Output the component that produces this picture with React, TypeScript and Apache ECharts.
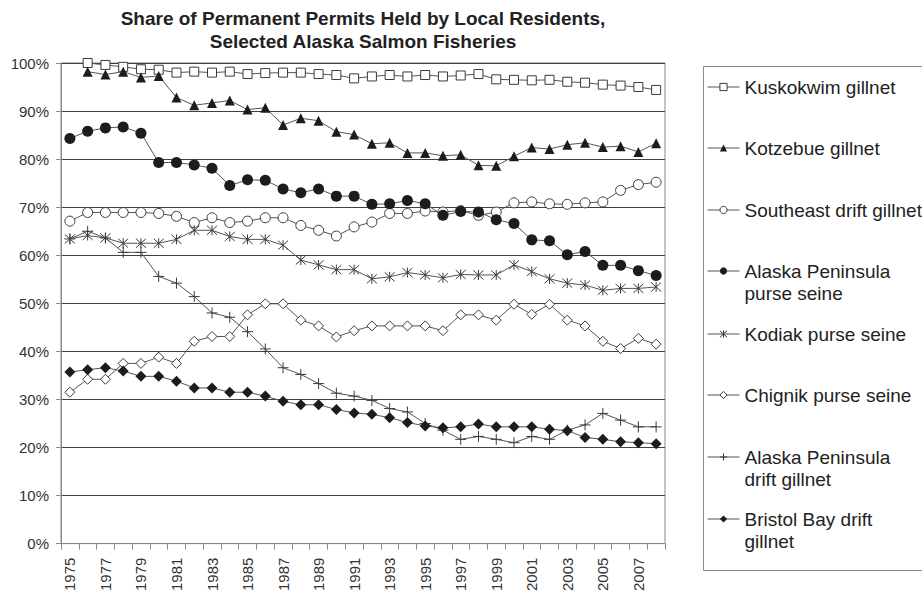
import React, { useEffect, useRef } from "react";
import * as echarts from "echarts";

const years = [
  "1975","1976","1977","1978","1979","1980","1981","1982","1983","1984",
  "1985","1986","1987","1988","1989","1990","1991","1992","1993","1994",
  "1995","1996","1997","1998","1999","2000","2001","2002","2003","2004",
  "2005","2006","2007","2008",
];

const kuskokwim = [null, 100, 99.6, 99.2, 98.7, 98.6, 98.0, 98.2, 98.0, 98.2, 97.7, 97.9, 98.0, 98.0, 97.7, 97.5, 96.8, 97.2, 97.5, 97.2, 97.5, 97.2, 97.4, 97.7, 96.6, 96.5, 96.4, 96.5, 96.1, 95.9, 95.5, 95.3, 95.0, 94.4];
const kotzebue = [null, 98.2, 97.6, 98.2, 97.0, 97.3, 92.8, 91.2, 91.7, 92.2, 90.3, 90.7, 87.1, 88.5, 88.0, 85.7, 85.1, 83.2, 83.4, 81.3, 81.3, 80.7, 80.9, 78.7, 78.6, 80.6, 82.4, 82.1, 83.0, 83.4, 82.5, 82.7, 81.5, 83.3];
const southeast = [67.1, 68.9, 68.9, 68.9, 68.9, 68.7, 68.1, 66.8, 67.8, 66.8, 67.1, 67.8, 67.8, 66.2, 65.2, 64.0, 65.9, 66.9, 68.7, 68.7, 69.2, 69.0, 69.3, 68.3, 69.0, 70.9, 71.1, 70.7, 70.6, 70.9, 71.1, 73.5, 74.7, 75.2];
const apPurse = [84.3, 85.8, 86.5, 86.7, 85.4, 79.3, 79.3, 78.8, 78.1, 74.5, 75.7, 75.6, 73.8, 73.0, 73.8, 72.3, 72.3, 70.6, 70.7, 71.4, 70.7, 68.3, 69.1, 69.0, 67.4, 66.6, 63.2, 63.0, 60.1, 60.8, 57.9, 57.9, 56.8, 55.8];
const kodiak = [63.4, 64.1, 63.6, 62.5, 62.5, 62.5, 63.3, 65.2, 65.2, 63.9, 63.3, 63.3, 62.1, 59.0, 58.0, 57.0, 57.0, 55.1, 55.5, 56.4, 55.9, 55.3, 56.0, 55.9, 55.9, 58.0, 56.6, 55.1, 54.2, 53.8, 52.7, 53.1, 53.1, 53.4];
const chignik = [31.5, 34.2, 34.2, 37.5, 37.5, 38.8, 37.5, 42.1, 43.1, 43.1, 47.6, 49.9, 49.9, 46.5, 45.3, 43.0, 44.3, 45.3, 45.3, 45.3, 45.3, 44.3, 47.6, 47.6, 46.5, 49.8, 47.7, 49.8, 46.5, 45.3, 42.1, 40.6, 42.7, 41.5];
const apDrift = [63.4, 65.0, 63.6, 60.6, 60.6, 55.6, 54.2, 51.4, 48.0, 47.1, 44.1, 40.5, 36.6, 35.2, 33.3, 31.3, 30.7, 29.8, 28.1, 27.4, 25.0, 23.6, 21.7, 22.3, 21.7, 21.0, 22.3, 21.7, 23.6, 24.7, 27.1, 25.7, 24.3, 24.3];
const bristol = [35.7, 36.2, 36.6, 35.9, 34.8, 34.8, 33.8, 32.4, 32.4, 31.5, 31.5, 30.7, 29.6, 28.9, 28.9, 27.9, 27.2, 26.9, 26.2, 25.2, 24.5, 24.1, 24.3, 24.9, 24.3, 24.3, 24.3, 23.8, 23.5, 22.1, 21.7, 21.2, 21.0, 20.8];

const seriesNames = [
  "Kuskokwim gillnet",
  "Kotzebue gillnet",
  "Southeast drift gillnet",
  "Alaska Peninsula purse seine",
  "Kodiak purse seine",
  "Chignik purse seine",
  "Alaska Peninsula drift gillnet",
  "Bristol Bay drift gillnet",
];
const legendLabels = [
  "Kuskokwim gillnet",
  "Kotzebue gillnet",
  "Southeast drift gillnet",
  "Alaska Peninsula\npurse seine",
  "Kodiak purse seine",
  "Chignik purse seine",
  "Alaska Peninsula\ndrift gillnet",
  "Bristol Bay drift\ngillnet",
];
const seriesData = [kuskokwim, kotzebue, southeast, apPurse, kodiak, chignik, apDrift, bristol];

const yTicks = { min: 0, max: 100, interval: 10 };

const FONT = "'Liberation Sans', Arial, Helvetica, sans-serif";
const LINE = "#555555";
const DARK = "#1c1c1c";
const EDGE = "#3a3a3a";

const ASTERISK = "path://M5,0L5,10M0.5,0.5L9.5,9.5M0.5,9.5L9.5,0.5";
const PLUS = "path://M5,0L5,10M0,5L10,5";

const markerStyles = [
  { symbol: "rect", size: 9, item: { color: "#ffffff", borderColor: EDGE, borderWidth: 1 } },
  { symbol: "triangle", size: 10, item: { color: DARK, borderColor: DARK, borderWidth: 0 } },
  { symbol: "circle", size: 10, item: { color: "#ffffff", borderColor: EDGE, borderWidth: 1 } },
  { symbol: "circle", size: 11, item: { color: DARK, borderColor: DARK, borderWidth: 0 } },
  { symbol: ASTERISK, size: 10, item: { color: EDGE, borderColor: EDGE, borderWidth: 1 } },
  { symbol: "diamond", size: 10, item: { color: "#ffffff", borderColor: EDGE, borderWidth: 1 } },
  { symbol: PLUS, size: 11, item: { color: EDGE, borderColor: EDGE, borderWidth: 1 } },
  { symbol: "diamond", size: 11, item: { color: DARK, borderColor: DARK, borderWidth: 0 } },
];

const legendCenters = [87, 148, 210, 271, 334, 395, 457, 519];

export default function App() {
  const ref = useRef<HTMLDivElement>(null);

  useEffect(() => {
    if (!ref.current) return;
    const chart = echarts.init(ref.current, undefined, { renderer: "svg" });

    const series = seriesNames.map((name, i) => ({
      name,
      type: "line",
      data: seriesData[i],
      symbol: markerStyles[i].symbol,
      symbolSize: markerStyles[i].size,
      showAllSymbol: true,
      lineStyle: { color: LINE, width: 1 },
      itemStyle: markerStyles[i].item,
      emphasis: { disabled: true },
      silent: true,
      z: 2 + i,
    }));

    const legends = seriesNames.map((name, i) => {
      const multi = legendLabels[i].indexOf("\n") >= 0;
      return {
        show: true,
        orient: "vertical",
        left: 707,
        top: legendCenters[i] - (multi ? 33 : 11),
        padding: 0,
        itemWidth: 32,
        itemHeight: 9,
        selectedMode: false,
        data: [name],
        // a blank first line keeps the icon level with the label's first line
        formatter: () => (multi ? "\n" + legendLabels[i] : legendLabels[i]),
        lineStyle: { color: LINE, width: 1 },
        itemStyle: markerStyles[i].item,
        textStyle: {
          fontFamily: FONT,
          fontSize: 19,
          color: "#222222",
          lineHeight: 22,
        },
      };
    });

    const option = {
      animation: false,
      backgroundColor: "#ffffff",
      title: {
        text: "Share of Permanent Permits Held by Local Residents,\nSelected Alaska Salmon Fisheries",
        left: 363,
        top: 7,
        padding: 0,
        textAlign: "center",
        textStyle: {
          fontFamily: FONT,
          fontSize: 19,
          fontWeight: "bold",
          color: "#222222",
          lineHeight: 23,
        },
      },
      legend: legends,
      grid: {
        left: 61,
        top: 63,
        width: 604,
        height: 485,
        show: true,
        borderColor: "#8a8a8a",
        borderWidth: 1,
        backgroundColor: "transparent",
      },
      xAxis: {
        type: "category",
        data: years,
        boundaryGap: true,
        axisLine: { show: true, lineStyle: { color: "#8a8a8a", width: 1 } },
        axisTick: { show: true, interval: 0, length: 6, lineStyle: { color: "#8a8a8a" } },
        axisLabel: {
          interval: 1,
          rotate: 90,
          margin: 14,
          fontFamily: FONT,
          fontSize: 15,
          color: "#333333",
        },
        splitLine: { show: false },
      },
      yAxis: {
        type: "value",
        min: yTicks.min,
        max: yTicks.max,
        interval: yTicks.interval,
        axisLine: { show: true, lineStyle: { color: "#8a8a8a", width: 1 } },
        axisTick: { show: true, length: 5, lineStyle: { color: "#8a8a8a" } },
        axisLabel: {
          formatter: "{value}%",
          margin: 12,
          fontFamily: FONT,
          fontSize: 15,
          color: "#333333",
        },
        splitLine: { show: true, lineStyle: { color: "#404040", width: 1 } },
      },
      graphic: [
        {
          type: "rect",
          left: 701,
          top: 64,
          shape: { width: 240, height: 504 },
          style: { fill: "none", stroke: "#8a8a8a", lineWidth: 1 },
          silent: true,
          z: -1,
        },
      ],
      series,
    };

    chart.setOption(option as any);
    return () => chart.dispose();
  }, []);

  return (
    <div
      ref={ref}
      style={{ position: "fixed", left: 0, top: 0, width: 922, height: 594, background: "#fff" }}
    />
  );
}
